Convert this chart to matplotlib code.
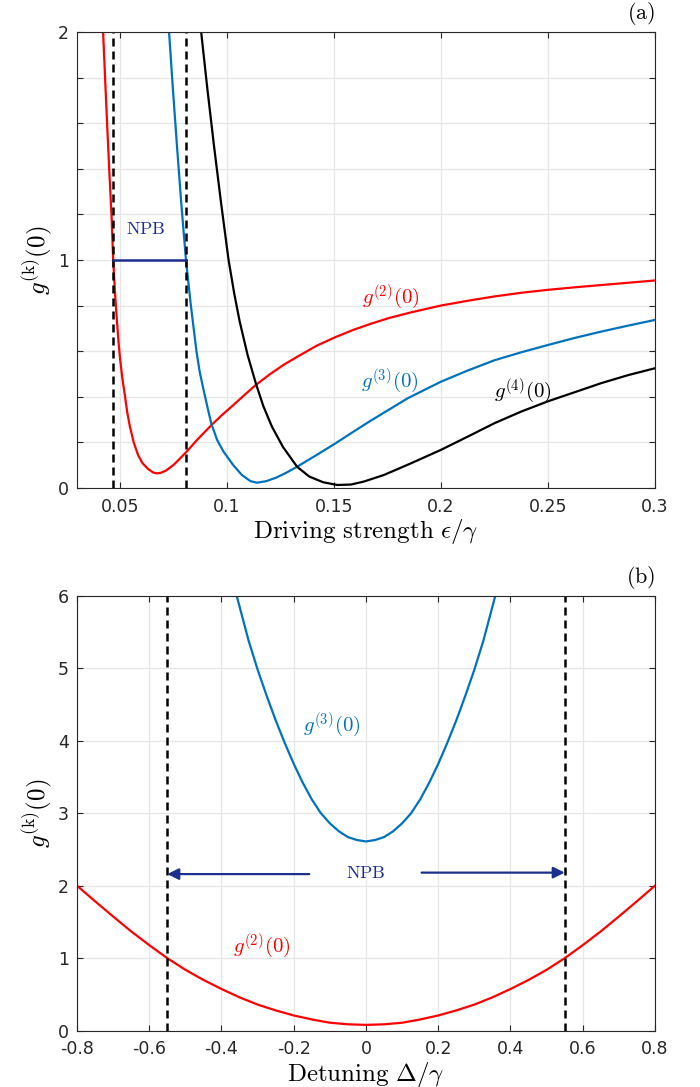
import numpy as np
import matplotlib.pyplot as plt

plt.rcParams['mathtext.fontset'] = 'cm'
plt.rcParams['font.family'] = 'DejaVu Sans'
plt.rcParams['axes.unicode_minus'] = False

# ---- panel (a): correlation vs driving strength ----
eps_g2 = [0.0422, 0.0432, 0.0442, 0.0452, 0.0462, 0.0469, 0.0478, 0.0486, 0.0494, 0.0502,
          0.0512, 0.0523, 0.0535, 0.0547, 0.0565, 0.0585, 0.0605, 0.0630, 0.0655, 0.0672,
          0.0690, 0.0715, 0.0750, 0.0780, 0.0813, 0.0865, 0.0922, 0.0975, 0.1031, 0.1085,
          0.1133, 0.1203, 0.1265, 0.1328, 0.1420, 0.1508, 0.1590, 0.1672, 0.1760, 0.1860,
          0.2000, 0.2125, 0.2250, 0.2375, 0.2500, 0.2625, 0.2750, 0.2875, 0.3000]
g2_a = [2.00, 1.78, 1.57, 1.37, 1.18, 1.00, 0.85, 0.74, 0.64, 0.56,
        0.48, 0.41, 0.33, 0.27, 0.20, 0.145, 0.11, 0.085, 0.068, 0.064,
        0.066, 0.076, 0.10, 0.128, 0.16, 0.215, 0.27, 0.318, 0.364, 0.41,
        0.45, 0.50, 0.54, 0.575, 0.624, 0.662, 0.693, 0.720, 0.746, 0.770,
        0.80, 0.821, 0.84, 0.856, 0.869, 0.880, 0.890, 0.900, 0.910]

eps_g3 = [0.0730, 0.0748, 0.0767, 0.0787, 0.0809, 0.0832, 0.0845, 0.0858, 0.0873, 0.0889,
          0.0908, 0.0928, 0.0955, 0.0984, 0.1030, 0.1070, 0.1110, 0.1141, 0.1185, 0.1230,
          0.1280, 0.1328, 0.1420, 0.1508, 0.1590, 0.1672, 0.1760, 0.1844, 0.2000, 0.2125,
          0.2250, 0.2375, 0.2500, 0.2625, 0.2750, 0.2875, 0.3000]
g3_a = [2.00, 1.75, 1.50, 1.25, 1.00, 0.80, 0.70, 0.60, 0.51, 0.44,
        0.36, 0.28, 0.21, 0.16, 0.10, 0.057, 0.030, 0.023, 0.030, 0.045,
        0.068, 0.093, 0.145, 0.196, 0.246, 0.295, 0.345, 0.393, 0.466, 0.515,
        0.56, 0.595, 0.627, 0.658, 0.686, 0.712, 0.737]

eps_g4 = [0.0880, 0.0909, 0.0940, 0.0973, 0.1008, 0.1035, 0.1060, 0.1097, 0.1135, 0.1170,
          0.1210, 0.1262, 0.1328, 0.1385, 0.1450, 0.1516, 0.1580, 0.1640, 0.1734, 0.1860,
          0.2000, 0.2125, 0.2250, 0.2375, 0.2500, 0.2625, 0.2750, 0.2875, 0.3000]
g4_a = [2.00, 1.75, 1.50, 1.25, 1.00, 0.85, 0.73, 0.583, 0.46, 0.36,
        0.27, 0.18, 0.093, 0.050, 0.025, 0.013, 0.015, 0.028, 0.057, 0.108,
        0.167, 0.225, 0.284, 0.335, 0.38, 0.42, 0.46, 0.495, 0.525]

npb_a = [0.0469, 0.0809]           # NPB window edges in panel (a)

# ---- panel (b): correlation vs detuning ----
det_g2 = [-0.80, -0.75, -0.70, -0.65, -0.60, -0.55, -0.50, -0.45, -0.40, -0.35, -0.30,
          -0.25, -0.20, -0.15, -0.10, -0.05, 0.00, 0.05, 0.10, 0.15, 0.20, 0.25, 0.30,
          0.35, 0.40, 0.45, 0.50, 0.55, 0.60, 0.65, 0.70, 0.75, 0.80]
g2_b = [2.00, 1.785, 1.575, 1.37, 1.18, 1.00, 0.84, 0.70, 0.575, 0.46, 0.36,
        0.28, 0.21, 0.155, 0.11, 0.088, 0.08, 0.088, 0.11, 0.155, 0.21, 0.28, 0.36,
        0.46, 0.575, 0.70, 0.84, 1.00, 1.18, 1.37, 1.575, 1.785, 2.00]

det_g3 = [-0.358, -0.325, -0.300, -0.275, -0.250, -0.225, -0.200, -0.175, -0.150, -0.125,
          -0.100, -0.075, -0.050, -0.025, 0.000, 0.025, 0.050, 0.075, 0.100, 0.125,
          0.150, 0.175, 0.200, 0.225, 0.250, 0.275, 0.300, 0.325, 0.358]
g3_b = [6.00, 5.38, 4.98, 4.62, 4.28, 3.97, 3.68, 3.42, 3.19, 3.00,
        2.86, 2.75, 2.67, 2.63, 2.61, 2.63, 2.67, 2.75, 2.86, 3.00,
        3.19, 3.42, 3.68, 3.97, 4.28, 4.62, 4.98, 5.38, 6.00]

npb_b = [-0.55, 0.55]

red = '#ff0000'
blue = '#0072bd'
navy = '#1c2f8f'
axc = '#262626'


def style_axes(ax):
    ax.tick_params(which='both', direction='in', top=True, right=True,
                   length=4, width=0.8, color=axc, labelcolor=axc,
                   labelsize=12.5)
    ax.tick_params(axis='x', pad=7)
    ax.tick_params(axis='y', pad=6)
    for s in ax.spines.values():
        s.set_color(axc)
        s.set_linewidth(0.8)
    ax.grid(True, color='#e6e6e6', linewidth=0.9)
    ax.set_axisbelow(True)


fig = plt.figure(figsize=(7, 10.87), dpi=100)

# panel (a)
ax1 = fig.add_axes([0.110, 0.5511, 0.8257, 0.4195])
style_axes(ax1)
ax1.plot(eps_g2, g2_a, color=red, lw=1.6)
ax1.plot(eps_g3, g3_a, color=blue, lw=1.6)
ax1.plot(eps_g4, g4_a, color='black', lw=1.6)
for xv in npb_a:
    ax1.plot([xv, xv], [0, 2], color='black', lw=1.8, ls=(0, (3.2, 2)))
ax1.plot(npb_a, [1, 1], color=navy, lw=1.8)
ax1.text(0.0527, 1.114, r'$\mathrm{NPB}$', color=navy, fontsize=13)
ax1.text(0.1633, 0.81, r'$g^{(2)}(0)$', color=red, fontsize=15)
ax1.text(0.1625, 0.444, r'$g^{(3)}(0)$', color=blue, fontsize=15)
ax1.text(0.225, 0.40, r'$g^{(4)}(0)$', color='black', fontsize=15)
ax1.set_xlim(0.03, 0.3)
ax1.set_ylim(0, 2)
xt = [0.05, 0.1, 0.15, 0.2, 0.25, 0.3]
ax1.set_xticks(xt)
ax1.set_xticklabels(['0.05', '0.1', '0.15', '0.2', '0.25', '0.3'])
yt = np.arange(0, 2.01, 0.2)
ax1.set_yticks(yt)
ax1.set_yticklabels(['0', '', '', '', '', '1', '', '', '', '', '2'])
ax1.set_xlabel(r'$\mathrm{Driving\ strength}\ \epsilon/\gamma$', fontsize=18, labelpad=1)
ax1.set_ylabel(r'$g^{(\mathrm{k})}(0)$', fontsize=18, labelpad=2)
ax1.text(1.0, 1.01, r'$\mathrm{(a)}$', transform=ax1.transAxes,
         ha='right', va='bottom', fontsize=16)

# panel (b)
ax2 = fig.add_axes([0.110, 0.0518, 0.8257, 0.4002])
style_axes(ax2)
ax2.plot(det_g2, g2_b, color=red, lw=1.6)
ax2.plot(det_g3, g3_b, color=blue, lw=1.6)
for xv in npb_b:
    ax2.plot([xv, xv], [0, 6], color='black', lw=1.8, ls=(0, (3.2, 2)))
arrow = dict(arrowstyle='-|>', color=navy, lw=1.6, mutation_scale=17,
             shrinkA=0, shrinkB=0)
ax2.annotate('', xy=(npb_b[0], 2.16), xytext=(-0.157, 2.16), arrowprops=arrow)
ax2.annotate('', xy=(npb_b[1], 2.18), xytext=(0.154, 2.18), arrowprops=arrow)
ax2.text(0.0, 2.10, r'$\mathrm{NPB}$', color=navy, fontsize=13, ha='center')
ax2.text(-0.173, 4.13, r'$g^{(3)}(0)$', color=blue, fontsize=15)
ax2.text(-0.368, 1.09, r'$g^{(2)}(0)$', color=red, fontsize=15)
ax2.set_xlim(-0.8, 0.8)
ax2.set_ylim(0, 6)
bx = np.round(np.arange(-0.8, 0.81, 0.2), 1)
ax2.set_xticks(bx)
ax2.set_xticklabels(['-0.8', '-0.6', '-0.4', '-0.2', '0', '0.2', '0.4', '0.6', '0.8'])
ax2.set_yticks(range(7))
ax2.set_xlabel(r'$\mathrm{Detuning}\ \Delta/\gamma$', fontsize=18, labelpad=1)
ax2.set_ylabel(r'$g^{(\mathrm{k})}(0)$', fontsize=18, labelpad=2)
ax2.text(1.0, 1.01, r'$\mathrm{(b)}$', transform=ax2.transAxes,
         ha='right', va='bottom', fontsize=16)

fig.savefig('out.png', dpi=100)
